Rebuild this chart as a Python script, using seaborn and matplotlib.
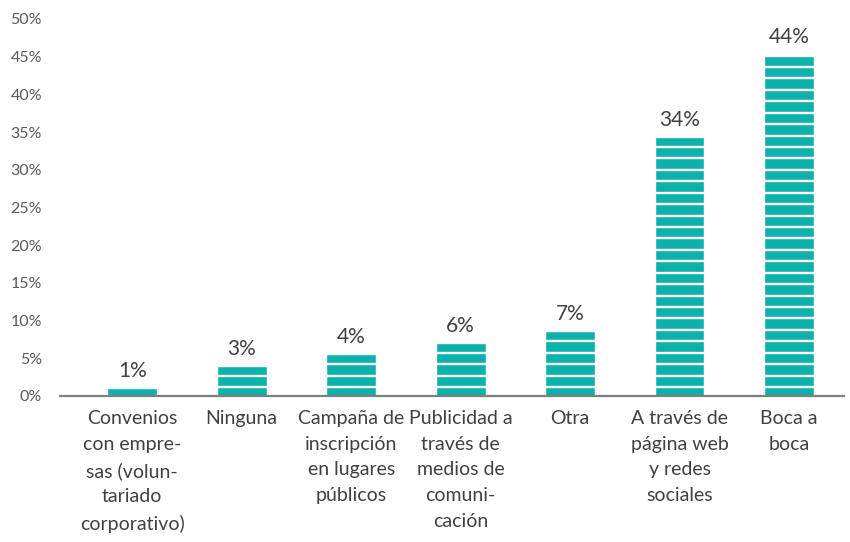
import numpy as np
import pandas as pd
import matplotlib
matplotlib.use("Agg")
import matplotlib.pyplot as plt
import seaborn as sns

# data
categories = [
    "Convenios\ncon empre-\nsas (volun-\ntariado\ncorporativo)",
    "Ninguna",
    "Campaña de\ninscripción\nen lugares\npúblicos",
    "Publicidad a\ntravés de\nmedios de\ncomuni-\ncación",
    "Otra",
    "A través de\npágina web\ny redes\nsociales",
    "Boca a\nboca",
]
labels = [1, 3, 4, 6, 7, 34, 44]
# drawn bar heights (the stacked stripes overshoot the label a little)
heights = [1.06, 4.0, 5.6, 7.0, 8.6, 34.4, 45.4]
yticks = list(range(0, 55, 5))

TEAL = "#0db1ab"
GREY = "#595959"

sns.set_theme(style="white")
plt.rcParams["font.family"] = ["Lato", "DejaVu Sans"]

df = pd.DataFrame({"cat": categories, "h": heights, "lab": labels})

fig = plt.figure(figsize=(8.5, 5.42), dpi=100)
ax = fig.add_axes([0.0706, 0.2694, 0.922, 0.6956])

sns.barplot(data=df, x="cat", y="h", color=TEAL, saturation=1,
            width=0.455, ax=ax, zorder=2)

# white gaps between the stacked stripes
for y in np.arange(1.19, 50, 1.516):
    ax.axhline(y, color="white", lw=1.7, zorder=3)

for i, (h, v) in enumerate(zip(heights, labels)):
    ax.text(i, h + 0.9, f"{v}%", ha="center", va="bottom",
            fontsize=15, color="#404040", zorder=4)

ax.set_xlim(-0.66, 6.5)
ax.set_ylim(0, 50)
ax.set_yticks(yticks)
ax.set_yticklabels([f"{t}%" for t in yticks], fontsize=11.5, color=GREY)
ax.tick_params(axis="y", length=0, pad=13)
ax.tick_params(axis="x", length=0, pad=10, labelsize=14, labelcolor="#404040")
for t in ax.get_xticklabels():
    t.set_linespacing(1.62)
ax.set_xlabel("")
ax.set_ylabel("")

for s in ["top", "right", "left"]:
    ax.spines[s].set_visible(False)
ax.spines["bottom"].set_color("#7f7f7f")
ax.spines["bottom"].set_linewidth(1.6)
ax.spines["bottom"].set_zorder(5)

fig.savefig("out.png", dpi=100)
